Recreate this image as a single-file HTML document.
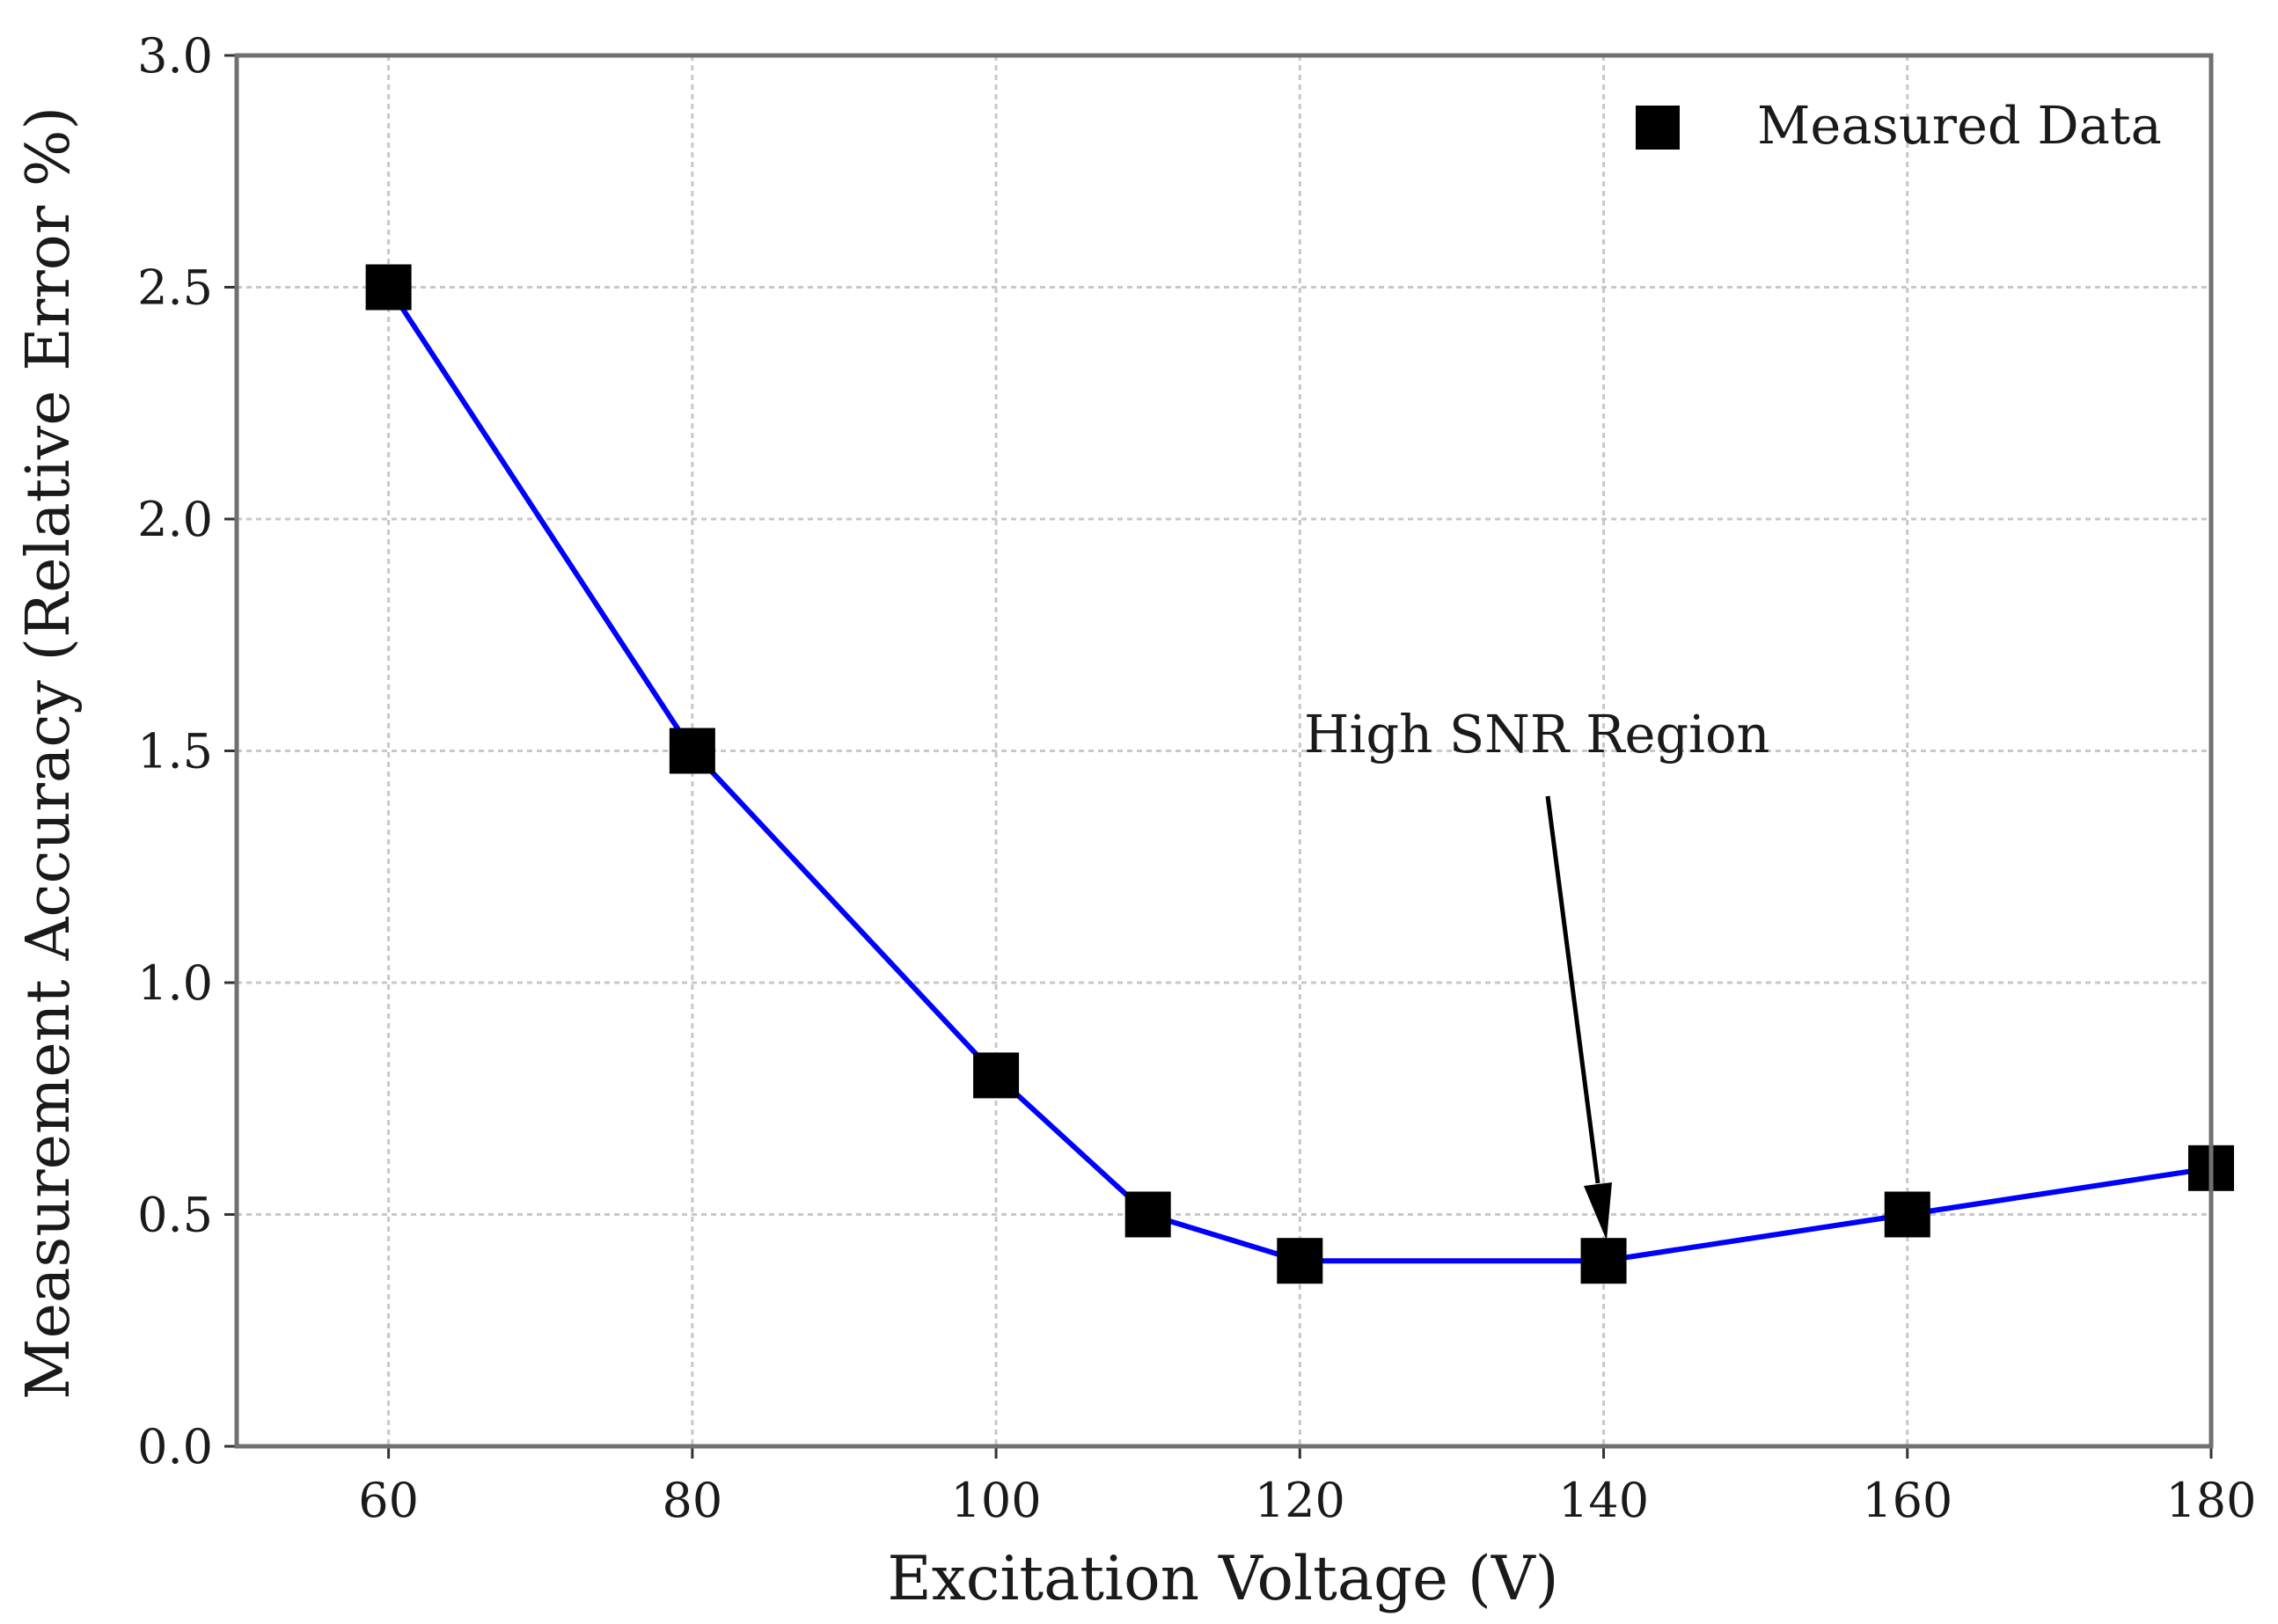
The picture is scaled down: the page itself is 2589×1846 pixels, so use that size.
<!DOCTYPE html>
<html><head><meta charset="utf-8"><style>
html,body{margin:0;padding:0;background:#fff;}
svg{display:block;}
text{font-family:"DejaVu Serif","Liberation Serif",serif;fill:#1a1a1a;}
</style></head><body>
<svg id="chart" width="2589" height="1846" viewBox="0 0 2589 1846" xmlns="http://www.w3.org/2000/svg">
<rect width="2589" height="1846" fill="#fff"/>
<g id="grid"></g>
<g id="series"></g>
<g id="axes"></g>
<text x="78" y="856" font-size="68" text-anchor="middle" transform="rotate(-90 78 856)">Measurement Accuracy (Relative Error %)</text>
<text x="1390" y="1818" font-size="69" text-anchor="middle">Excitation Voltage (V)</text>
<g>
<rect x="1859" y="120" width="50" height="50" fill="#000"/>
<text x="1997" y="163" font-size="59">Measured Data</text>
</g>
<g>
<text x="1482" y="855" font-size="59">High SNR Region</text>
<line x1="1759" y1="905" x2="1816" y2="1345" stroke="#000" stroke-width="5"/>
<polygon points="1826,1410 1800,1348 1832,1344" fill="#000"/>
</g>
</svg>
<script>
const xValues = [60, 80, 100, 110, 120, 140, 160, 180];
const yValues = [2.5, 1.5, 0.8, 0.5, 0.4, 0.4, 0.5, 0.6];
const xTicks = [60, 80, 100, 120, 140, 160, 180];
const yTicks = [0.0, 0.5, 1.0, 1.5, 2.0, 2.5, 3.0];
const L=269,R=2513,T=63,B=1644, XMIN=50,XMAX=180,YMIN=0,YMAX=3;
function sx(v){return L+(v-XMIN)/(XMAX-XMIN)*(R-L);}
function sy(v){return B-(v-YMIN)/(YMAX-YMIN)*(B-T);}
const NS="http://www.w3.org/2000/svg";
function mk(tag,attrs,parent){const e=document.createElementNS(NS,tag);for(const k in attrs)e.setAttribute(k,attrs[k]);parent.appendChild(e);return e;}
const grid=document.getElementById('grid'),axes=document.getElementById('axes'),series=document.getElementById('series');
xTicks.forEach(t=>{
  const g=mk('line',{x1:sx(t),x2:sx(t),y1:T,y2:B,stroke:'#c8c8c8','stroke-width':3,'stroke-dasharray':'6,5'},grid);
  
  
  const tk=mk('line',{x1:sx(t),x2:sx(t),y1:B,y2:B+14,stroke:'#333','stroke-width':3},axes);
  
  
  const tx=mk('text',{x:sx(t),y:1724,'font-size':54,'text-anchor':'middle'},axes);
  tx.textContent=String(t);
  
  
});
yTicks.forEach(t=>{
  const g=mk('line',{x1:L,x2:R,y1:sy(t),y2:sy(t),stroke:'#c8c8c8','stroke-width':3,'stroke-dasharray':'6,5'},grid);
  
  
  const tk=mk('line',{x1:L-14,x2:L,y1:sy(t),y2:sy(t),stroke:'#333','stroke-width':3},axes);
  
  
  const tx=mk('text',{x:242,y:sy(t)+19,'font-size':54,'text-anchor':'end'},axes);
  tx.textContent=t.toFixed(1);
  
  
});
const frame=mk('rect',{x:L,y:T,width:R-L,height:B-T,fill:'none',stroke:'#707070','stroke-width':5},axes);


const pts=xValues.map((x,i)=>sx(x)+','+sy(yValues[i])).join(' ');
const line=mk('polyline',{points:pts,fill:'none',stroke:'#0000ff','stroke-width':6},series);


xValues.forEach((x,i)=>{
  const m=mk('rect',{x:sx(x)-26,y:sy(yValues[i])-26,width:52,height:52,fill:'#000'},series);
  
  
});
</script>
</body></html>
